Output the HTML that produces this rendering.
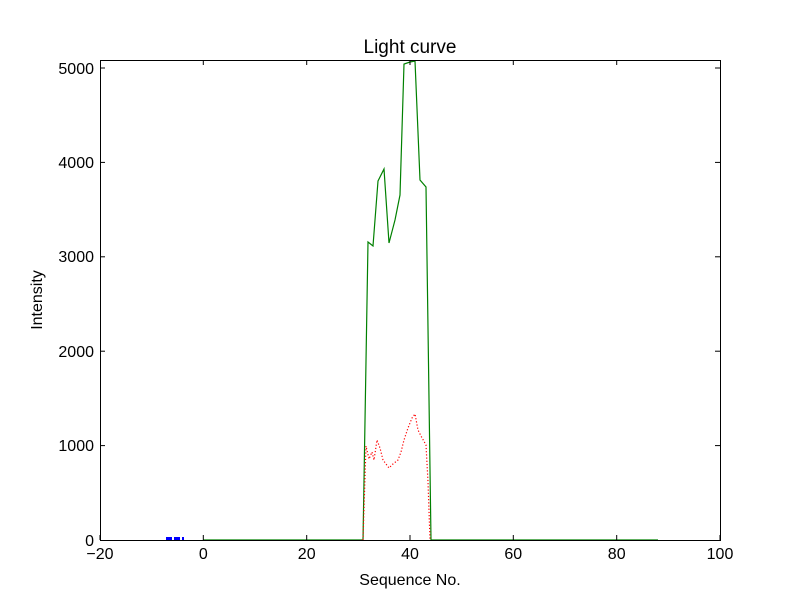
<!DOCTYPE html><html><head><style>body{margin:0;background:#fff}svg{font-family:"Liberation Sans",sans-serif}</style></head><body>
<svg width="800" height="600" xmlns="http://www.w3.org/2000/svg">
<rect width="800" height="600" fill="#fff"/>
<text x="410" y="53" font-size="19" text-anchor="middle">Light curve</text>
<polyline fill="none" stroke="#008000" stroke-width="1.2" points="203,540 363,540 368,242 373,246 378,181 384,169 389,243 395,220 400,195 404,64 410,62 415,61 420,180 426,187 431,540 658,540"/>
<polyline fill="none" stroke="#ff0000" stroke-width="1.2" stroke-dasharray="1.2,2" points="363,540 366,446 369,459 372,452 374,460 377,440 380,448 383,460 389,468 393,464 398,460 401,452 404,440 408,428 412,418 415,414 418,430 421,436 426,445 428,482 430,540"/>
<rect x="100.5" y="60.5" width="620" height="480" fill="none" stroke="#000"/>
<line x1="166" y1="538.5" x2="184" y2="538.5" stroke="#0000ff" stroke-width="3" stroke-dasharray="6,2"/>
<g stroke="#000">
<line x1="100" y1="540" x2="100" y2="535"/><line x1="203.3" y1="540" x2="203.3" y2="535"/><line x1="306.7" y1="540" x2="306.7" y2="535"/><line x1="410" y1="540" x2="410" y2="535"/><line x1="513.3" y1="540" x2="513.3" y2="535"/><line x1="616.7" y1="540" x2="616.7" y2="535"/><line x1="720" y1="540" x2="720" y2="535"/>
<line x1="203.3" y1="60" x2="203.3" y2="65"/><line x1="306.7" y1="60" x2="306.7" y2="65"/><line x1="410" y1="60" x2="410" y2="65"/><line x1="513.3" y1="60" x2="513.3" y2="65"/><line x1="616.7" y1="60" x2="616.7" y2="65"/>
<line x1="100" y1="445.6" x2="105" y2="445.6"/><line x1="100" y1="351.2" x2="105" y2="351.2"/><line x1="100" y1="256.8" x2="105" y2="256.8"/><line x1="100" y1="162.4" x2="105" y2="162.4"/><line x1="100" y1="68" x2="105" y2="68"/>
<line x1="720" y1="445.6" x2="715" y2="445.6"/><line x1="720" y1="351.2" x2="715" y2="351.2"/><line x1="720" y1="256.8" x2="715" y2="256.8"/><line x1="720" y1="162.4" x2="715" y2="162.4"/><line x1="720" y1="68" x2="715" y2="68"/>
</g>
<g font-size="16" text-anchor="middle">
<text x="100" y="559">−20</text><text x="203.3" y="559">0</text><text x="306.7" y="559">20</text><text x="410" y="559">40</text><text x="513.3" y="559">60</text><text x="616.7" y="559">80</text><text x="720" y="559">100</text>
</g>
<g font-size="16" text-anchor="end">
<text x="94" y="546">0</text><text x="94" y="451">1000</text><text x="94" y="357">2000</text><text x="94" y="262">3000</text><text x="94" y="168">4000</text><text x="94" y="74">5000</text>
</g>
<text x="410" y="585" font-size="16" text-anchor="middle">Sequence No.</text>
<text transform="translate(42,300) rotate(-90)" font-size="16" text-anchor="middle">Intensity</text>
</svg></body></html>
